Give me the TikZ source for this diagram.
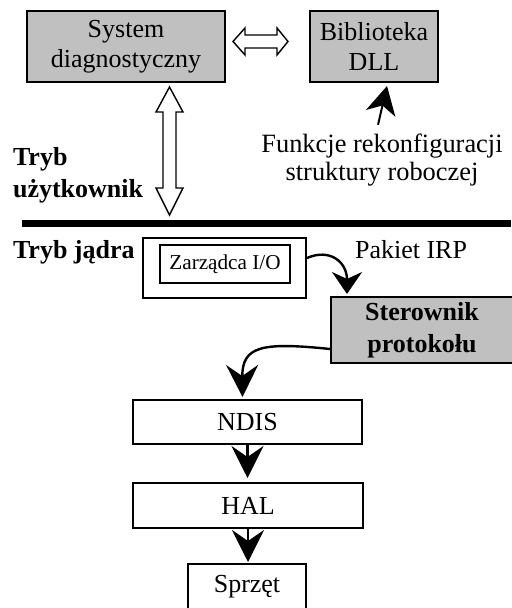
\documentclass[tikz,border=0pt]{standalone}
\usepackage{fontspec}
\setmainfont{Liberation Serif}
\usetikzlibrary{arrows.meta, positioning}
\definecolor{boxgray}{RGB}{192,192,192}

\begin{document}
\begin{tikzpicture}[x=0.5pt, y=-0.5pt, >=Stealth,
    every node/.style={font=\fontsize{13}{15}\selectfont},
    graybox/.style={draw, line width=1pt, fill=boxgray, align=center, inner sep=0pt},
    whitebox/.style={draw, line width=1pt, fill=white, inner sep=0pt},
    hollow/.style={draw, line width=0.7pt, fill=white, line join=miter},
    flow/.style={line width=1.2pt, -{Stealth[length=16pt, width=16pt, inset=5.5pt]}}]

    \useasboundingbox (0,0) rectangle (511,608);

    % user mode
    \node[graybox, minimum width=99pt, minimum height=35.5pt] (sys) at (126,46.5) {System\\diagnostyczny};
    \node[graybox, minimum width=64pt, minimum height=35.5pt] (dll) at (374,46.5) {Biblioteka\\DLL};

    % hollow two-way arrows
    \draw[hollow] (233,41.5) -- (245,28) -- (245,35) -- (277,35) -- (277,28) -- (288,41.5)
        -- (277,55) -- (277,48) -- (245,48) -- (245,55) -- cycle;
    \draw[hollow] (169.5,87) -- (183,112) -- (176,112) -- (176,188) -- (183,188) -- (169.5,215)
        -- (156,188) -- (163,188) -- (163,112) -- (156,112) -- cycle;

    \node[align=center, font=\fontsize{13.2}{14}\selectfont] (fun) at (382,160) {Funkcje rekonfiguracji\\struktury roboczej};
    \draw[line width=1pt, -{Stealth[length=14pt, width=15pt, inset=4pt]}] ([xshift=-2pt, yshift=1pt]fun.north) -- ([xshift=6.5pt, yshift=-1.5pt]dll.south);

    \node[font=\fontsize{13}{16}\selectfont\bfseries, align=left, anchor=west] (umode) at (6,175) {Tryb\\użytkownik};

    % separator between the two modes
    \coordinate (sepL) at (22,223.5);
    \coordinate (sepR) at (511,223.5);
    \draw[line width=3.5pt] (sepL) -- (sepR);

    % kernel mode
    \node[font=\fontsize{13}{15}\selectfont\bfseries, anchor=west] (kmode) at (6,252) {Tryb jądra};
    \node[whitebox, minimum width=81.5pt, minimum height=30pt] (io) at (224.5,268) {};
    \node[whitebox, minimum width=65pt, minimum height=19pt, font=\fontsize{10.6}{12}\selectfont] (iomgr) at (225,264) {Zarządca I/O};
    \node[anchor=west] (irp) at (348,250) {Pakiet IRP};
    \node[graybox, font=\fontsize{13}{16}\selectfont\bfseries, minimum width=91pt, minimum height=33pt] (drv) at (422,330) {Sterownik\\protokołu};

    \node[whitebox, minimum width=114.5pt, minimum height=22pt] (ndis) at (247.5,422) {NDIS};
    \node[whitebox, minimum width=115pt, minimum height=22.5pt] (hal) at (248,505.5) {HAL};
    \node[whitebox, minimum width=59pt, minimum height=23pt] (hw) at (247,587) {Sprzęt};

    % the request travels down the stack
    \draw[line width=1.2pt, -{Stealth[length=11pt, width=15pt, inset=3.5pt]}] ([yshift=5pt]io.east) .. controls (330,248) and (347,262) .. ([xshift=-37.5pt, yshift=1pt]drv.north);
    \draw[flow] ([yshift=-9.5pt]drv.west) .. controls (262,342) and (242,346) .. ([xshift=-2.5pt, yshift=1pt]ndis.north);
    \draw[flow, shorten >=2pt] (ndis.south) -- (ndis.south |- hal.north);
    \draw[flow, shorten >=0.5pt] (hal.south) -- (hal.south |- hw.north);

\end{tikzpicture}
\end{document}
